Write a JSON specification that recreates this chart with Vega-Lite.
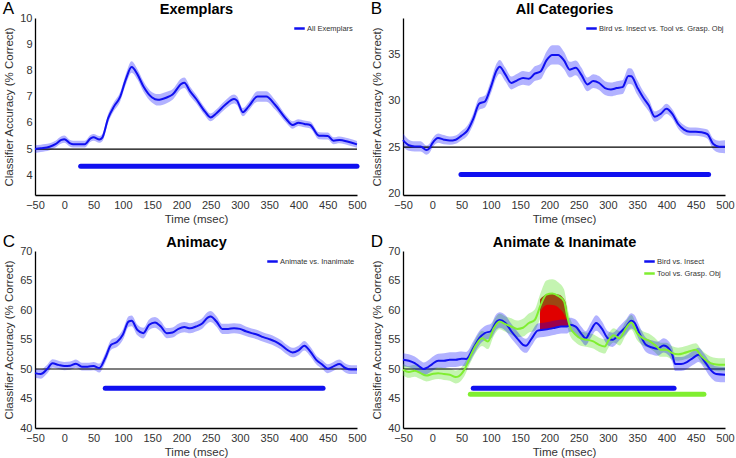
{
"$schema":"https://vega.github.io/schema/vega-lite/v6.json",
"padding":{"left":2,"top":0,"right":0,"bottom":0},
"background":"white",
"columns":2,
"spacing":{"row":56,"column":46},
"bounds":"flush",
"resolve":{"scale":{"x":"independent","y":"independent","color":"independent"},"legend":{"color":"independent"}},
"config":{
 "view":{"stroke":null},
 "font":"Liberation Sans",
 "axis":{"grid":false,"ticks":false,"domainColor":"#000","domainWidth":1.3,"labelFont":"Liberation Sans","labelFontSize":11,"labelColor":"#333","titleFont":"Liberation Sans","titleFontSize":11.5,"titleFontWeight":"normal","titleColor":"#333","labelPadding":4,"labelFlush":false},
 "axisX":{"titlePadding":3},
 "axisY":{"titlePadding":5,"labelPadding":3},
 "title":{"font":"Liberation Sans","fontSize":17,"fontWeight":"normal","color":"#000","anchor":"start","frame":"bounds","offset":-17,"dx":-1},
 "legend":{"orient":"none","title":null,"symbolType":"stroke","symbolStrokeWidth":2.5,"symbolSize":110,"labelFont":"Liberation Sans","labelFontSize":7.5,"labelColor":"#333","labelOffset":1,"rowPadding":0,"padding":0}
},
"datasets":{
"curves":[
{"p":"A","s":"All Exemplars","t":-50,"m":5.0,"e":0.15},
{"p":"A","s":"All Exemplars","t":-40,"m":5.03,"e":0.14},
{"p":"A","s":"All Exemplars","t":-25,"m":5.09,"e":0.13},
{"p":"A","s":"All Exemplars","t":-15,"m":5.19,"e":0.13},
{"p":"A","s":"All Exemplars","t":-5,"m":5.35,"e":0.14},
{"p":"A","s":"All Exemplars","t":0,"m":5.38,"e":0.14},
{"p":"A","s":"All Exemplars","t":10,"m":5.22,"e":0.13},
{"p":"A","s":"All Exemplars","t":15,"m":5.19,"e":0.13},
{"p":"A","s":"All Exemplars","t":25,"m":5.19,"e":0.13},
{"p":"A","s":"All Exemplars","t":35,"m":5.19,"e":0.13},
{"p":"A","s":"All Exemplars","t":45,"m":5.41,"e":0.13},
{"p":"A","s":"All Exemplars","t":50,"m":5.45,"e":0.13},
{"p":"A","s":"All Exemplars","t":60,"m":5.37,"e":0.13},
{"p":"A","s":"All Exemplars","t":65,"m":5.44,"e":0.14},
{"p":"A","s":"All Exemplars","t":75,"m":6.18,"e":0.17},
{"p":"A","s":"All Exemplars","t":85,"m":6.63,"e":0.17},
{"p":"A","s":"All Exemplars","t":95,"m":6.97,"e":0.18},
{"p":"A","s":"All Exemplars","t":105,"m":7.65,"e":0.2},
{"p":"A","s":"All Exemplars","t":115,"m":8.13,"e":0.22},
{"p":"A","s":"All Exemplars","t":125,"m":7.85,"e":0.2},
{"p":"A","s":"All Exemplars","t":135,"m":7.4,"e":0.2},
{"p":"A","s":"All Exemplars","t":150,"m":6.97,"e":0.2},
{"p":"A","s":"All Exemplars","t":160,"m":6.88,"e":0.22},
{"p":"A","s":"All Exemplars","t":175,"m":6.97,"e":0.22},
{"p":"A","s":"All Exemplars","t":185,"m":7.08,"e":0.2},
{"p":"A","s":"All Exemplars","t":200,"m":7.49,"e":0.2},
{"p":"A","s":"All Exemplars","t":205,"m":7.53,"e":0.2},
{"p":"A","s":"All Exemplars","t":215,"m":7.2,"e":0.18},
{"p":"A","s":"All Exemplars","t":225,"m":6.92,"e":0.16},
{"p":"A","s":"All Exemplars","t":240,"m":6.44,"e":0.15},
{"p":"A","s":"All Exemplars","t":250,"m":6.21,"e":0.15},
{"p":"A","s":"All Exemplars","t":260,"m":6.37,"e":0.15},
{"p":"A","s":"All Exemplars","t":275,"m":6.69,"e":0.16},
{"p":"A","s":"All Exemplars","t":290,"m":6.91,"e":0.17},
{"p":"A","s":"All Exemplars","t":295,"m":6.85,"e":0.17},
{"p":"A","s":"All Exemplars","t":305,"m":6.41,"e":0.16},
{"p":"A","s":"All Exemplars","t":315,"m":6.63,"e":0.16},
{"p":"A","s":"All Exemplars","t":330,"m":7.01,"e":0.2},
{"p":"A","s":"All Exemplars","t":345,"m":7.01,"e":0.2},
{"p":"A","s":"All Exemplars","t":360,"m":6.69,"e":0.18},
{"p":"A","s":"All Exemplars","t":380,"m":6.12,"e":0.14},
{"p":"A","s":"All Exemplars","t":390,"m":5.92,"e":0.14},
{"p":"A","s":"All Exemplars","t":400,"m":6.01,"e":0.13},
{"p":"A","s":"All Exemplars","t":410,"m":5.96,"e":0.13},
{"p":"A","s":"All Exemplars","t":420,"m":5.92,"e":0.13},
{"p":"A","s":"All Exemplars","t":435,"m":5.51,"e":0.13},
{"p":"A","s":"All Exemplars","t":450,"m":5.5,"e":0.13},
{"p":"A","s":"All Exemplars","t":460,"m":5.32,"e":0.13},
{"p":"A","s":"All Exemplars","t":470,"m":5.35,"e":0.13},
{"p":"A","s":"All Exemplars","t":485,"m":5.28,"e":0.13},
{"p":"A","s":"All Exemplars","t":500,"m":5.18,"e":0.13},
{"p":"B","s":"Bird vs. Insect vs. Tool vs. Grasp. Obj","t":-50,"m":25.76,"e":0.7},
{"p":"B","s":"Bird vs. Insect vs. Tool vs. Grasp. Obj","t":-40,"m":25.2,"e":0.6},
{"p":"B","s":"Bird vs. Insect vs. Tool vs. Grasp. Obj","t":-30,"m":25.07,"e":0.55},
{"p":"B","s":"Bird vs. Insect vs. Tool vs. Grasp. Obj","t":-20,"m":25.07,"e":0.55},
{"p":"B","s":"Bird vs. Insect vs. Tool vs. Grasp. Obj","t":-10,"m":24.67,"e":0.5},
{"p":"B","s":"Bird vs. Insect vs. Tool vs. Grasp. Obj","t":-5,"m":24.85,"e":0.5},
{"p":"B","s":"Bird vs. Insect vs. Tool vs. Grasp. Obj","t":0,"m":25.4,"e":0.5},
{"p":"B","s":"Bird vs. Insect vs. Tool vs. Grasp. Obj","t":10,"m":25.98,"e":0.5},
{"p":"B","s":"Bird vs. Insect vs. Tool vs. Grasp. Obj","t":20,"m":25.8,"e":0.5},
{"p":"B","s":"Bird vs. Insect vs. Tool vs. Grasp. Obj","t":30,"m":25.7,"e":0.45},
{"p":"B","s":"Bird vs. Insect vs. Tool vs. Grasp. Obj","t":40,"m":25.8,"e":0.45},
{"p":"B","s":"Bird vs. Insect vs. Tool vs. Grasp. Obj","t":50,"m":26.24,"e":0.5},
{"p":"B","s":"Bird vs. Insect vs. Tool vs. Grasp. Obj","t":60,"m":26.78,"e":0.55},
{"p":"B","s":"Bird vs. Insect vs. Tool vs. Grasp. Obj","t":70,"m":28.05,"e":0.6},
{"p":"B","s":"Bird vs. Insect vs. Tool vs. Grasp. Obj","t":80,"m":29.7,"e":0.65},
{"p":"B","s":"Bird vs. Insect vs. Tool vs. Grasp. Obj","t":90,"m":29.95,"e":0.65},
{"p":"B","s":"Bird vs. Insect vs. Tool vs. Grasp. Obj","t":100,"m":31.5,"e":0.7},
{"p":"B","s":"Bird vs. Insect vs. Tool vs. Grasp. Obj","t":110,"m":33.33,"e":0.75},
{"p":"B","s":"Bird vs. Insect vs. Tool vs. Grasp. Obj","t":115,"m":33.7,"e":0.75},
{"p":"B","s":"Bird vs. Insect vs. Tool vs. Grasp. Obj","t":125,"m":32.85,"e":0.75},
{"p":"B","s":"Bird vs. Insect vs. Tool vs. Grasp. Obj","t":135,"m":31.95,"e":0.7},
{"p":"B","s":"Bird vs. Insect vs. Tool vs. Grasp. Obj","t":145,"m":32.24,"e":0.7},
{"p":"B","s":"Bird vs. Insect vs. Tool vs. Grasp. Obj","t":155,"m":32.5,"e":0.75},
{"p":"B","s":"Bird vs. Insect vs. Tool vs. Grasp. Obj","t":165,"m":32.4,"e":0.75},
{"p":"B","s":"Bird vs. Insect vs. Tool vs. Grasp. Obj","t":175,"m":32.96,"e":0.8},
{"p":"B","s":"Bird vs. Insect vs. Tool vs. Grasp. Obj","t":185,"m":33.2,"e":0.85},
{"p":"B","s":"Bird vs. Insect vs. Tool vs. Grasp. Obj","t":195,"m":34.4,"e":0.95},
{"p":"B","s":"Bird vs. Insect vs. Tool vs. Grasp. Obj","t":205,"m":35.0,"e":1.05},
{"p":"B","s":"Bird vs. Insect vs. Tool vs. Grasp. Obj","t":215,"m":35.0,"e":1.05},
{"p":"B","s":"Bird vs. Insect vs. Tool vs. Grasp. Obj","t":225,"m":34.4,"e":0.95},
{"p":"B","s":"Bird vs. Insect vs. Tool vs. Grasp. Obj","t":235,"m":33.4,"e":0.85},
{"p":"B","s":"Bird vs. Insect vs. Tool vs. Grasp. Obj","t":245,"m":33.6,"e":0.8},
{"p":"B","s":"Bird vs. Insect vs. Tool vs. Grasp. Obj","t":255,"m":32.8,"e":0.8},
{"p":"B","s":"Bird vs. Insect vs. Tool vs. Grasp. Obj","t":265,"m":31.8,"e":0.75},
{"p":"B","s":"Bird vs. Insect vs. Tool vs. Grasp. Obj","t":275,"m":32.16,"e":0.75},
{"p":"B","s":"Bird vs. Insect vs. Tool vs. Grasp. Obj","t":285,"m":31.95,"e":0.75},
{"p":"B","s":"Bird vs. Insect vs. Tool vs. Grasp. Obj","t":295,"m":31.4,"e":0.75},
{"p":"B","s":"Bird vs. Insect vs. Tool vs. Grasp. Obj","t":305,"m":31.25,"e":0.75},
{"p":"B","s":"Bird vs. Insect vs. Tool vs. Grasp. Obj","t":315,"m":31.4,"e":0.75},
{"p":"B","s":"Bird vs. Insect vs. Tool vs. Grasp. Obj","t":325,"m":31.5,"e":0.75},
{"p":"B","s":"Bird vs. Insect vs. Tool vs. Grasp. Obj","t":335,"m":32.7,"e":0.85},
{"p":"B","s":"Bird vs. Insect vs. Tool vs. Grasp. Obj","t":340,"m":32.67,"e":0.85},
{"p":"B","s":"Bird vs. Insect vs. Tool vs. Grasp. Obj","t":350,"m":31.5,"e":0.8},
{"p":"B","s":"Bird vs. Insect vs. Tool vs. Grasp. Obj","t":360,"m":30.4,"e":0.7},
{"p":"B","s":"Bird vs. Insect vs. Tool vs. Grasp. Obj","t":370,"m":29.5,"e":0.65},
{"p":"B","s":"Bird vs. Insect vs. Tool vs. Grasp. Obj","t":380,"m":28.3,"e":0.55},
{"p":"B","s":"Bird vs. Insect vs. Tool vs. Grasp. Obj","t":390,"m":28.6,"e":0.55},
{"p":"B","s":"Bird vs. Insect vs. Tool vs. Grasp. Obj","t":400,"m":29.15,"e":0.55},
{"p":"B","s":"Bird vs. Insect vs. Tool vs. Grasp. Obj","t":410,"m":28.6,"e":0.5},
{"p":"B","s":"Bird vs. Insect vs. Tool vs. Grasp. Obj","t":420,"m":27.5,"e":0.5},
{"p":"B","s":"Bird vs. Insect vs. Tool vs. Grasp. Obj","t":430,"m":26.9,"e":0.5},
{"p":"B","s":"Bird vs. Insect vs. Tool vs. Grasp. Obj","t":440,"m":26.67,"e":0.45},
{"p":"B","s":"Bird vs. Insect vs. Tool vs. Grasp. Obj","t":450,"m":26.67,"e":0.45},
{"p":"B","s":"Bird vs. Insect vs. Tool vs. Grasp. Obj","t":460,"m":26.6,"e":0.45},
{"p":"B","s":"Bird vs. Insect vs. Tool vs. Grasp. Obj","t":470,"m":26.4,"e":0.5},
{"p":"B","s":"Bird vs. Insect vs. Tool vs. Grasp. Obj","t":480,"m":25.33,"e":0.6},
{"p":"B","s":"Bird vs. Insect vs. Tool vs. Grasp. Obj","t":490,"m":25.04,"e":0.65},
{"p":"B","s":"Bird vs. Insect vs. Tool vs. Grasp. Obj","t":500,"m":25.04,"e":0.7},
{"p":"C","s":"Animate vs. Inanimate","t":-50,"m":49.3,"e":0.8},
{"p":"C","s":"Animate vs. Inanimate","t":-40,"m":49.15,"e":0.8},
{"p":"C","s":"Animate vs. Inanimate","t":-30,"m":49.9,"e":0.75},
{"p":"C","s":"Animate vs. Inanimate","t":-20,"m":50.96,"e":0.7},
{"p":"C","s":"Animate vs. Inanimate","t":-10,"m":50.7,"e":0.7},
{"p":"C","s":"Animate vs. Inanimate","t":0,"m":50.5,"e":0.7},
{"p":"C","s":"Animate vs. Inanimate","t":10,"m":50.56,"e":0.7},
{"p":"C","s":"Animate vs. Inanimate","t":20,"m":50.9,"e":0.7},
{"p":"C","s":"Animate vs. Inanimate","t":30,"m":50.4,"e":0.65},
{"p":"C","s":"Animate vs. Inanimate","t":40,"m":50.4,"e":0.65},
{"p":"C","s":"Animate vs. Inanimate","t":50,"m":50.5,"e":0.7},
{"p":"C","s":"Animate vs. Inanimate","t":60,"m":50.17,"e":0.75},
{"p":"C","s":"Animate vs. Inanimate","t":70,"m":51.86,"e":0.8},
{"p":"C","s":"Animate vs. Inanimate","t":80,"m":54.1,"e":0.85},
{"p":"C","s":"Animate vs. Inanimate","t":90,"m":54.56,"e":0.85},
{"p":"C","s":"Animate vs. Inanimate","t":100,"m":55.8,"e":0.9},
{"p":"C","s":"Animate vs. Inanimate","t":110,"m":58.05,"e":0.9},
{"p":"C","s":"Animate vs. Inanimate","t":115,"m":58.16,"e":0.9},
{"p":"C","s":"Animate vs. Inanimate","t":125,"m":56.6,"e":0.9},
{"p":"C","s":"Animate vs. Inanimate","t":135,"m":56.08,"e":0.9},
{"p":"C","s":"Animate vs. Inanimate","t":145,"m":57.5,"e":0.9},
{"p":"C","s":"Animate vs. Inanimate","t":155,"m":57.9,"e":0.9},
{"p":"C","s":"Animate vs. Inanimate","t":165,"m":57.2,"e":0.9},
{"p":"C","s":"Animate vs. Inanimate","t":175,"m":56.08,"e":0.85},
{"p":"C","s":"Animate vs. Inanimate","t":185,"m":56.2,"e":0.85},
{"p":"C","s":"Animate vs. Inanimate","t":195,"m":56.8,"e":0.85},
{"p":"C","s":"Animate vs. Inanimate","t":205,"m":57.1,"e":0.85},
{"p":"C","s":"Animate vs. Inanimate","t":215,"m":56.9,"e":0.85},
{"p":"C","s":"Animate vs. Inanimate","t":225,"m":57.2,"e":0.85},
{"p":"C","s":"Animate vs. Inanimate","t":235,"m":57.66,"e":0.9},
{"p":"C","s":"Animate vs. Inanimate","t":245,"m":58.7,"e":0.95},
{"p":"C","s":"Animate vs. Inanimate","t":250,"m":58.9,"e":0.95},
{"p":"C","s":"Animate vs. Inanimate","t":260,"m":58.05,"e":0.9},
{"p":"C","s":"Animate vs. Inanimate","t":270,"m":56.8,"e":0.85},
{"p":"C","s":"Animate vs. Inanimate","t":280,"m":56.8,"e":0.85},
{"p":"C","s":"Animate vs. Inanimate","t":290,"m":56.9,"e":0.85},
{"p":"C","s":"Animate vs. Inanimate","t":300,"m":56.8,"e":0.85},
{"p":"C","s":"Animate vs. Inanimate","t":310,"m":56.4,"e":0.8},
{"p":"C","s":"Animate vs. Inanimate","t":320,"m":56.08,"e":0.8},
{"p":"C","s":"Animate vs. Inanimate","t":330,"m":55.8,"e":0.8},
{"p":"C","s":"Animate vs. Inanimate","t":340,"m":55.4,"e":0.8},
{"p":"C","s":"Animate vs. Inanimate","t":350,"m":55.07,"e":0.8},
{"p":"C","s":"Animate vs. Inanimate","t":360,"m":54.67,"e":0.8},
{"p":"C","s":"Animate vs. Inanimate","t":370,"m":54.1,"e":0.8},
{"p":"C","s":"Animate vs. Inanimate","t":380,"m":53.3,"e":0.8},
{"p":"C","s":"Animate vs. Inanimate","t":390,"m":52.8,"e":0.8},
{"p":"C","s":"Animate vs. Inanimate","t":400,"m":53.15,"e":0.8},
{"p":"C","s":"Animate vs. Inanimate","t":410,"m":53.94,"e":0.8},
{"p":"C","s":"Animate vs. Inanimate","t":420,"m":53.0,"e":0.8},
{"p":"C","s":"Animate vs. Inanimate","t":430,"m":51.6,"e":0.75},
{"p":"C","s":"Animate vs. Inanimate","t":440,"m":50.8,"e":0.75},
{"p":"C","s":"Animate vs. Inanimate","t":450,"m":50.05,"e":0.75},
{"p":"C","s":"Animate vs. Inanimate","t":460,"m":50.45,"e":0.75},
{"p":"C","s":"Animate vs. Inanimate","t":470,"m":50.84,"e":0.75},
{"p":"C","s":"Animate vs. Inanimate","t":480,"m":50.17,"e":0.75},
{"p":"C","s":"Animate vs. Inanimate","t":490,"m":49.9,"e":0.75},
{"p":"C","s":"Animate vs. Inanimate","t":500,"m":49.9,"e":0.75},
{"p":"D","s":"Bird vs. Insect","t":-50,"m":51.58,"e":1.1},
{"p":"D","s":"Bird vs. Insect","t":-40,"m":51.4,"e":1.1},
{"p":"D","s":"Bird vs. Insect","t":-30,"m":51.0,"e":1.1},
{"p":"D","s":"Bird vs. Insect","t":-20,"m":50.28,"e":1.1},
{"p":"D","s":"Bird vs. Insect","t":-15,"m":50.0,"e":1.1},
{"p":"D","s":"Bird vs. Insect","t":-10,"m":50.17,"e":1.1},
{"p":"D","s":"Bird vs. Insect","t":0,"m":50.84,"e":1.2},
{"p":"D","s":"Bird vs. Insect","t":10,"m":51.4,"e":1.2},
{"p":"D","s":"Bird vs. Insect","t":20,"m":51.4,"e":1.25},
{"p":"D","s":"Bird vs. Insect","t":30,"m":51.58,"e":1.25},
{"p":"D","s":"Bird vs. Insect","t":40,"m":51.58,"e":1.25},
{"p":"D","s":"Bird vs. Insect","t":50,"m":51.75,"e":1.2},
{"p":"D","s":"Bird vs. Insect","t":58,"m":51.7,"e":1.2},
{"p":"D","s":"Bird vs. Insect","t":70,"m":53.5,"e":1.2},
{"p":"D","s":"Bird vs. Insect","t":80,"m":55.2,"e":1.2},
{"p":"D","s":"Bird vs. Insect","t":90,"m":56.1,"e":1.2},
{"p":"D","s":"Bird vs. Insect","t":100,"m":56.4,"e":1.25},
{"p":"D","s":"Bird vs. Insect","t":110,"m":58.05,"e":1.3},
{"p":"D","s":"Bird vs. Insect","t":115,"m":58.3,"e":1.3},
{"p":"D","s":"Bird vs. Insect","t":125,"m":57.8,"e":1.3},
{"p":"D","s":"Bird vs. Insect","t":135,"m":56.4,"e":1.25},
{"p":"D","s":"Bird vs. Insect","t":145,"m":55.2,"e":1.2},
{"p":"D","s":"Bird vs. Insect","t":155,"m":54.1,"e":1.2},
{"p":"D","s":"Bird vs. Insect","t":160,"m":53.94,"e":1.2},
{"p":"D","s":"Bird vs. Insect","t":170,"m":55.2,"e":1.2},
{"p":"D","s":"Bird vs. Insect","t":180,"m":56.5,"e":1.2},
{"p":"D","s":"Bird vs. Insect","t":190,"m":56.64,"e":1.2},
{"p":"D","s":"Bird vs. Insect","t":200,"m":56.8,"e":1.2},
{"p":"D","s":"Bird vs. Insect","t":210,"m":57.0,"e":1.2},
{"p":"D","s":"Bird vs. Insect","t":220,"m":57.2,"e":1.2},
{"p":"D","s":"Bird vs. Insect","t":230,"m":57.2,"e":1.2},
{"p":"D","s":"Bird vs. Insect","t":235,"m":57.5,"e":1.2},
{"p":"D","s":"Bird vs. Insect","t":245,"m":57.2,"e":1.2},
{"p":"D","s":"Bird vs. Insect","t":255,"m":55.9,"e":1.2},
{"p":"D","s":"Bird vs. Insect","t":262,"m":55.2,"e":1.2},
{"p":"D","s":"Bird vs. Insect","t":270,"m":56.4,"e":1.25},
{"p":"D","s":"Bird vs. Insect","t":280,"m":57.8,"e":1.3},
{"p":"D","s":"Bird vs. Insect","t":290,"m":56.8,"e":1.25},
{"p":"D","s":"Bird vs. Insect","t":300,"m":55.2,"e":1.2},
{"p":"D","s":"Bird vs. Insect","t":308,"m":54.95,"e":1.2},
{"p":"D","s":"Bird vs. Insect","t":320,"m":56.1,"e":1.2},
{"p":"D","s":"Bird vs. Insect","t":330,"m":57.04,"e":1.25},
{"p":"D","s":"Bird vs. Insect","t":340,"m":58.16,"e":1.3},
{"p":"D","s":"Bird vs. Insect","t":345,"m":57.9,"e":1.3},
{"p":"D","s":"Bird vs. Insect","t":355,"m":55.8,"e":1.25},
{"p":"D","s":"Bird vs. Insect","t":365,"m":54.1,"e":1.2},
{"p":"D","s":"Bird vs. Insect","t":375,"m":53.66,"e":1.2},
{"p":"D","s":"Bird vs. Insect","t":385,"m":53.43,"e":1.2},
{"p":"D","s":"Bird vs. Insect","t":395,"m":54.0,"e":1.2},
{"p":"D","s":"Bird vs. Insect","t":400,"m":53.83,"e":1.2},
{"p":"D","s":"Bird vs. Insect","t":410,"m":52.4,"e":1.2},
{"p":"D","s":"Bird vs. Insect","t":415,"m":50.84,"e":1.2},
{"p":"D","s":"Bird vs. Insect","t":425,"m":50.84,"e":1.2},
{"p":"D","s":"Bird vs. Insect","t":435,"m":51.18,"e":1.2},
{"p":"D","s":"Bird vs. Insect","t":445,"m":51.86,"e":1.2},
{"p":"D","s":"Bird vs. Insect","t":455,"m":52.4,"e":1.2},
{"p":"D","s":"Bird vs. Insect","t":465,"m":51.3,"e":1.2},
{"p":"D","s":"Bird vs. Insect","t":475,"m":49.9,"e":1.25},
{"p":"D","s":"Bird vs. Insect","t":485,"m":49.15,"e":1.3},
{"p":"D","s":"Bird vs. Insect","t":500,"m":49.04,"e":1.3},
{"p":"D","s":"Tool vs. Grasp. Obj","t":-50,"m":49.9,"e":1.0},
{"p":"D","s":"Tool vs. Grasp. Obj","t":-40,"m":49.5,"e":1.0},
{"p":"D","s":"Tool vs. Grasp. Obj","t":-30,"m":49.7,"e":1.0},
{"p":"D","s":"Tool vs. Grasp. Obj","t":-20,"m":49.3,"e":1.0},
{"p":"D","s":"Tool vs. Grasp. Obj","t":-10,"m":48.9,"e":1.0},
{"p":"D","s":"Tool vs. Grasp. Obj","t":0,"m":49.15,"e":1.0},
{"p":"D","s":"Tool vs. Grasp. Obj","t":10,"m":49.3,"e":1.0},
{"p":"D","s":"Tool vs. Grasp. Obj","t":20,"m":49.15,"e":1.0},
{"p":"D","s":"Tool vs. Grasp. Obj","t":30,"m":49.04,"e":1.05},
{"p":"D","s":"Tool vs. Grasp. Obj","t":40,"m":48.65,"e":1.1},
{"p":"D","s":"Tool vs. Grasp. Obj","t":45,"m":48.76,"e":1.1},
{"p":"D","s":"Tool vs. Grasp. Obj","t":55,"m":49.9,"e":1.1},
{"p":"D","s":"Tool vs. Grasp. Obj","t":65,"m":52.14,"e":1.1},
{"p":"D","s":"Tool vs. Grasp. Obj","t":75,"m":54.1,"e":1.2},
{"p":"D","s":"Tool vs. Grasp. Obj","t":85,"m":55.2,"e":1.3},
{"p":"D","s":"Tool vs. Grasp. Obj","t":95,"m":54.67,"e":1.3},
{"p":"D","s":"Tool vs. Grasp. Obj","t":105,"m":56.9,"e":1.3},
{"p":"D","s":"Tool vs. Grasp. Obj","t":115,"m":58.05,"e":1.3},
{"p":"D","s":"Tool vs. Grasp. Obj","t":125,"m":57.6,"e":1.3},
{"p":"D","s":"Tool vs. Grasp. Obj","t":135,"m":57.2,"e":1.4},
{"p":"D","s":"Tool vs. Grasp. Obj","t":145,"m":56.8,"e":1.4},
{"p":"D","s":"Tool vs. Grasp. Obj","t":155,"m":57.0,"e":1.5},
{"p":"D","s":"Tool vs. Grasp. Obj","t":165,"m":57.8,"e":1.6},
{"p":"D","s":"Tool vs. Grasp. Obj","t":175,"m":58.3,"e":1.8},
{"p":"D","s":"Tool vs. Grasp. Obj","t":185,"m":60.8,"e":2.1},
{"p":"D","s":"Tool vs. Grasp. Obj","t":195,"m":62.6,"e":2.4},
{"p":"D","s":"Tool vs. Grasp. Obj","t":205,"m":62.8,"e":2.4},
{"p":"D","s":"Tool vs. Grasp. Obj","t":215,"m":62.4,"e":2.3},
{"p":"D","s":"Tool vs. Grasp. Obj","t":225,"m":61.5,"e":2.0},
{"p":"D","s":"Tool vs. Grasp. Obj","t":230,"m":59.2,"e":1.7},
{"p":"D","s":"Tool vs. Grasp. Obj","t":235,"m":57.2,"e":1.5},
{"p":"D","s":"Tool vs. Grasp. Obj","t":245,"m":55.8,"e":1.3},
{"p":"D","s":"Tool vs. Grasp. Obj","t":255,"m":55.1,"e":1.2},
{"p":"D","s":"Tool vs. Grasp. Obj","t":265,"m":54.95,"e":1.2},
{"p":"D","s":"Tool vs. Grasp. Obj","t":275,"m":54.67,"e":1.2},
{"p":"D","s":"Tool vs. Grasp. Obj","t":285,"m":54.1,"e":1.2},
{"p":"D","s":"Tool vs. Grasp. Obj","t":295,"m":53.83,"e":1.2},
{"p":"D","s":"Tool vs. Grasp. Obj","t":300,"m":54.67,"e":1.2},
{"p":"D","s":"Tool vs. Grasp. Obj","t":310,"m":55.7,"e":1.2},
{"p":"D","s":"Tool vs. Grasp. Obj","t":320,"m":55.2,"e":1.2},
{"p":"D","s":"Tool vs. Grasp. Obj","t":330,"m":56.8,"e":1.2},
{"p":"D","s":"Tool vs. Grasp. Obj","t":340,"m":57.9,"e":1.25},
{"p":"D","s":"Tool vs. Grasp. Obj","t":350,"m":56.08,"e":1.2},
{"p":"D","s":"Tool vs. Grasp. Obj","t":360,"m":55.2,"e":1.2},
{"p":"D","s":"Tool vs. Grasp. Obj","t":370,"m":54.8,"e":1.2},
{"p":"D","s":"Tool vs. Grasp. Obj","t":380,"m":54.1,"e":1.2},
{"p":"D","s":"Tool vs. Grasp. Obj","t":390,"m":53.27,"e":1.2},
{"p":"D","s":"Tool vs. Grasp. Obj","t":400,"m":53.27,"e":1.2},
{"p":"D","s":"Tool vs. Grasp. Obj","t":410,"m":52.7,"e":1.15},
{"p":"D","s":"Tool vs. Grasp. Obj","t":420,"m":52.5,"e":1.1},
{"p":"D","s":"Tool vs. Grasp. Obj","t":430,"m":52.7,"e":1.1},
{"p":"D","s":"Tool vs. Grasp. Obj","t":440,"m":53.0,"e":1.1},
{"p":"D","s":"Tool vs. Grasp. Obj","t":450,"m":53.27,"e":1.1},
{"p":"D","s":"Tool vs. Grasp. Obj","t":460,"m":52.14,"e":1.1},
{"p":"D","s":"Tool vs. Grasp. Obj","t":470,"m":51.3,"e":1.1},
{"p":"D","s":"Tool vs. Grasp. Obj","t":480,"m":50.84,"e":1.1},
{"p":"D","s":"Tool vs. Grasp. Obj","t":490,"m":50.73,"e":1.1},
{"p":"D","s":"Tool vs. Grasp. Obj","t":500,"m":50.73,"e":1.1}
],
"chance":[
{"p":"A","t":-50,"t2":500,"m":5},
{"p":"B","t":-50,"t2":500,"m":25},
{"p":"C","t":-50,"t2":500,"m":50},
{"p":"D","t":-50,"t2":500,"m":50}
],
"sig":[
{"p":"A","s":"All Exemplars","t":28,"t2":500,"m":4.35},
{"p":"B","s":"Bird vs. Insect vs. Tool vs. Grasp. Obj","t":49,"t2":472,"m":22.02},
{"p":"C","s":"Animate vs. Inanimate","t":70,"t2":442,"m":46.73},
{"p":"D","s":"Bird vs. Insect","t":70,"t2":413,"m":46.73},
{"p":"D","s":"Tool vs. Grasp. Obj","t":65,"t2":464,"m":45.72}
],
"patch":[
{"t":184,"m":56.5,"b":61.8,"r":59.5},
{"t":188,"m":56.6,"b":62.2,"r":60.3},
{"t":197,"m":56.75,"b":62.7,"r":60.9},
{"t":205,"m":56.9,"b":62.8,"r":60.85},
{"t":211,"m":57.0,"b":62.7,"r":60.7},
{"t":219,"m":57.15,"b":62.5,"r":60.1},
{"t":222,"m":57.2,"b":62.2,"r":59.8},
{"t":228,"m":57.2,"b":61.2,"r":58.7},
{"t":232,"m":57.2,"b":58.0,"r":57.6}
]
},
"concat":[
{
 "width":322,"height":177,
 "title":{"text":"A"},
 "resolve":{"scale":{"x":"independent"},"axis":{"x":"independent"}},
 "encoding":{
  "x":{"field":"t","type":"quantitative","scale":{"domain":[-50,500],"nice":false,"zero":false},"axis":null},
  "y":{"field":"m","type":"quantitative","scale":{"domain":[3.25,10],"nice":false,"zero":false},"axis":{"title":"Classifier Accuracy (% Correct)","values":[4,5,6,7,8,9,10]}}
 },
 "layer":[
  {"data":{"name":"curves"},"transform":[{"filter":"datum.p==='A'"}],"mark":{"type":"errorband","interpolate":"monotone","color":"#0000ff","opacity":0.3},
   "encoding":{"x":{"field":"t","type":"quantitative","scale":{"domain":[-50,500],"nice":false,"zero":false},"axis":{"orient":"bottom","title":"Time (msec)","values":[-50,0,50,100,150,200,250,300,350,400,450,500]}},"yError":{"field":"e"}}},
  {"data":{"name":"chance"},"transform":[{"filter":"datum.p==='A'"}],"mark":{"type":"rule","color":"#000","strokeWidth":1.2},
   "encoding":{"x":{"field":"t","type":"quantitative","scale":{"domain":[-50,500],"nice":false,"zero":false},"axis":{"orient":"top","title":"Exemplars","labels":false,"domain":false,"ticks":false,"titleFontSize":14.5,"titleFontWeight":"bold","titleColor":"#000","titlePadding":2}},"x2":{"field":"t2"}}},
  {"data":{"name":"curves"},"transform":[{"filter":"datum.p==='A'"}],"mark":{"type":"line","interpolate":"monotone","strokeWidth":2},
   "encoding":{"color":{"field":"s","type":"nominal","scale":{"domain":["All Exemplars"],"range":["#1010f0"]},"legend":{"legendX":258,"legendY":4}}}},
  {"data":{"name":"sig"},"transform":[{"filter":"datum.p==='A'"}],"mark":{"type":"rule","strokeWidth":5,"strokeCap":"round"},
   "encoding":{"x2":{"field":"t2"},"color":{"field":"s","type":"nominal","legend":null}}}
 ]
},
{
 "width":322,"height":177,
 "title":{"text":"B"},
 "resolve":{"scale":{"x":"independent"},"axis":{"x":"independent"}},
 "encoding":{
  "x":{"field":"t","type":"quantitative","scale":{"domain":[-50,500],"nice":false,"zero":false},"axis":null},
  "y":{"field":"m","type":"quantitative","scale":{"domain":[19.8,39],"nice":false,"zero":false},"axis":{"title":"Classifier Accuracy (% Correct)","values":[20,25,30,35]}}
 },
 "layer":[
  {"data":{"name":"curves"},"transform":[{"filter":"datum.p==='B'"}],"mark":{"type":"errorband","interpolate":"monotone","color":"#0000ff","opacity":0.3},
   "encoding":{"x":{"field":"t","type":"quantitative","scale":{"domain":[-50,500],"nice":false,"zero":false},"axis":{"orient":"bottom","title":"Time (msec)","values":[-50,0,50,100,150,200,250,300,350,400,450,500]}},"yError":{"field":"e"}}},
  {"data":{"name":"chance"},"transform":[{"filter":"datum.p==='B'"}],"mark":{"type":"rule","color":"#000","strokeWidth":1.2},
   "encoding":{"x":{"field":"t","type":"quantitative","scale":{"domain":[-50,500],"nice":false,"zero":false},"axis":{"orient":"top","title":"All Categories","labels":false,"domain":false,"ticks":false,"titleFontSize":14.5,"titleFontWeight":"bold","titleColor":"#000","titlePadding":2}},"x2":{"field":"t2"}}},
  {"data":{"name":"curves"},"transform":[{"filter":"datum.p==='B'"}],"mark":{"type":"line","interpolate":"monotone","strokeWidth":2},
   "encoding":{"color":{"field":"s","type":"nominal","scale":{"domain":["Bird vs. Insect vs. Tool vs. Grasp. Obj"],"range":["#1010f0"]},"legend":{"legendX":182,"legendY":4}}}},
  {"data":{"name":"sig"},"transform":[{"filter":"datum.p==='B'"}],"mark":{"type":"rule","strokeWidth":5,"strokeCap":"round"},
   "encoding":{"x2":{"field":"t2"},"color":{"field":"s","type":"nominal","legend":null}}}
 ]
},
{
 "width":322,"height":177,
 "title":{"text":"C"},
 "resolve":{"scale":{"x":"independent"},"axis":{"x":"independent"}},
 "encoding":{
  "x":{"field":"t","type":"quantitative","scale":{"domain":[-50,500],"nice":false,"zero":false},"axis":null},
  "y":{"field":"m","type":"quantitative","scale":{"domain":[40,70],"nice":false,"zero":false},"axis":{"title":"Classifier Accuracy (% Correct)","values":[40,45,50,55,60,65,70]}}
 },
 "layer":[
  {"data":{"name":"curves"},"transform":[{"filter":"datum.p==='C'"}],"mark":{"type":"errorband","interpolate":"monotone","color":"#0000ff","opacity":0.3},
   "encoding":{"x":{"field":"t","type":"quantitative","scale":{"domain":[-50,500],"nice":false,"zero":false},"axis":{"orient":"bottom","title":"Time (msec)","values":[-50,0,50,100,150,200,250,300,350,400,450,500]}},"yError":{"field":"e"}}},
  {"data":{"name":"chance"},"transform":[{"filter":"datum.p==='C'"}],"mark":{"type":"rule","color":"#000","strokeWidth":1.2},
   "encoding":{"x":{"field":"t","type":"quantitative","scale":{"domain":[-50,500],"nice":false,"zero":false},"axis":{"orient":"top","title":"Animacy","labels":false,"domain":false,"ticks":false,"titleFontSize":14.5,"titleFontWeight":"bold","titleColor":"#000","titlePadding":2}},"x2":{"field":"t2"}}},
  {"data":{"name":"curves"},"transform":[{"filter":"datum.p==='C'"}],"mark":{"type":"line","interpolate":"monotone","strokeWidth":2},
   "encoding":{"color":{"field":"s","type":"nominal","scale":{"domain":["Animate vs. Inanimate"],"range":["#1010f0"]},"legend":{"legendX":231,"legendY":4}}}},
  {"data":{"name":"sig"},"transform":[{"filter":"datum.p==='C'"}],"mark":{"type":"rule","strokeWidth":5,"strokeCap":"round"},
   "encoding":{"x2":{"field":"t2"},"color":{"field":"s","type":"nominal","legend":null}}}
 ]
},
{
 "width":322,"height":177,
 "title":{"text":"D"},
 "resolve":{"scale":{"x":"independent"},"axis":{"x":"independent"}},
 "encoding":{
  "x":{"field":"t","type":"quantitative","scale":{"domain":[-50,500],"nice":false,"zero":false},"axis":null},
  "y":{"field":"m","type":"quantitative","scale":{"domain":[40,70],"nice":false,"zero":false},"axis":{"title":"Classifier Accuracy (% Correct)","values":[40,45,50,55,60,65,70]}}
 },
 "layer":[
  {"data":{"name":"curves"},"transform":[{"filter":"datum.p==='D' && datum.s==='Tool vs. Grasp. Obj'"}],"mark":{"type":"errorband","interpolate":"monotone","color":"#55e020","opacity":0.35},
   "encoding":{"x":{"field":"t","type":"quantitative","scale":{"domain":[-50,500],"nice":false,"zero":false},"axis":{"orient":"bottom","title":"Time (msec)","values":[-50,0,50,100,150,200,250,300,350,400,450,500]}},"yError":{"field":"e"}}},
  {"data":{"name":"chance"},"transform":[{"filter":"datum.p==='D'"}],"mark":{"type":"rule","color":"#000","strokeWidth":1.2},
   "encoding":{"x":{"field":"t","type":"quantitative","scale":{"domain":[-50,500],"nice":false,"zero":false},"axis":{"orient":"top","title":"Animate & Inanimate","labels":false,"domain":false,"ticks":false,"titleFontSize":14.5,"titleFontWeight":"bold","titleColor":"#000","titlePadding":2}},"x2":{"field":"t2"}}},
  {"data":{"name":"patch"},"mark":{"type":"area","interpolate":"monotone","color":"#9a4812","opacity":1},"encoding":{"y2":{"field":"b"}}},
  {"data":{"name":"patch"},"mark":{"type":"area","interpolate":"monotone","color":"#e00000","opacity":1},"encoding":{"y2":{"field":"r"}}},
  {"data":{"name":"curves"},"transform":[{"filter":"datum.p==='D' && datum.s==='Bird vs. Insect'"}],"mark":{"type":"errorband","interpolate":"monotone","color":"#0000ff","opacity":0.3},"encoding":{"yError":{"field":"e"}}},
  {"data":{"name":"curves"},"transform":[{"filter":"datum.p==='D' && datum.s==='Bird vs. Insect'"}],"mark":{"type":"line","interpolate":"monotone","strokeWidth":2},
   "encoding":{"color":{"field":"s","type":"nominal","scale":{"domain":["Bird vs. Insect","Tool vs. Grasp. Obj"],"range":["#1010f0","#80ee30"]},"legend":{"legendX":240,"legendY":4}}}},
  {"data":{"name":"curves"},"transform":[{"filter":"datum.p==='D' && datum.s==='Tool vs. Grasp. Obj'"}],"mark":{"type":"line","interpolate":"monotone","strokeWidth":2},
   "encoding":{"color":{"field":"s","type":"nominal","legend":null}}},
  {"data":{"name":"sig"},"transform":[{"filter":"datum.p==='D'"}],"mark":{"type":"rule","strokeWidth":5,"strokeCap":"round"},
   "encoding":{"x2":{"field":"t2"},"color":{"field":"s","type":"nominal","legend":null}}}
 ]
}
]
}
